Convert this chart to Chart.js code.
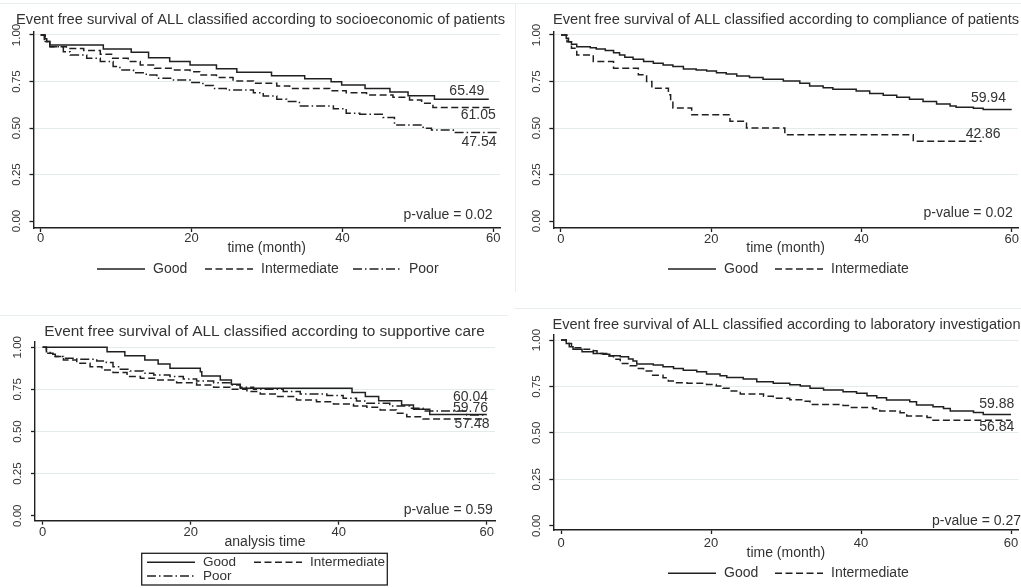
<!DOCTYPE html>
<html>
<head>
<meta charset="utf-8">
<title>Event free survival of ALL</title>
<script src="https://cdn.jsdelivr.net/npm/chart.js@4.4.0/dist/chart.umd.min.js"></script>
<style>
  html, body { margin: 0; padding: 0; background: #fff; }
  #figure { position: relative; width: 1021px; height: 588px; overflow: hidden; }
  #figure canvas { position: absolute; left: 0; top: 0; width: 1021px; height: 588px; }
  .frame { position: absolute; background: #e9eff0; }
</style>
</head>
<body>
<div id="figure">
  <div class="frame" style="left:0;top:3px;width:1021px;height:1px"></div>
  <div class="frame" style="left:515px;top:3px;width:1px;height:289px"></div>
  <div class="frame" style="left:0;top:315px;width:508px;height:1px"></div>
  <div class="frame" style="left:514px;top:308px;width:507px;height:1px"></div>
  <canvas id="c-socio" width="1021" height="588"></canvas>
  <canvas id="c-comp" width="1021" height="588"></canvas>
  <canvas id="c-care" width="1021" height="588"></canvas>
  <canvas id="c-lab" width="1021" height="588"></canvas>
</div>

<script>
// ── Shared look ────────────────────────────────────
const INK = '#202020';
const TEXT = '#333333';
const GRID = '#e3ebec';
const FONT = "'Liberation Sans', Arial, sans-serif";
const DASH = { solid: [], dash: [7, 3.5], dashdot: [9, 3, 1.5, 3] };

// ── Axes ───────────────────────────────────────────
const xTicks = [0, 20, 40, 60];
const yTicks = [0, 0.25, 0.5, 0.75, 1];
const groups = ['Good', 'Intermediate', 'Poor'];
const groupStyle = ['solid', 'dash', 'dashdot'];

// ── Socioeconomic (step times in months, survival) ─
const socioGoodT = [0, 0.5, 0.8, 1.2, 8.3, 12.0, 14.3, 17.1, 19.8, 23.3, 26.0, 30.6, 35.0, 38.5, 39.9, 43.0, 46.3, 48.7, 52.2, 59.4];
const socioGoodS = [1, 0.98, 0.965, 0.946, 0.925, 0.907, 0.878, 0.857, 0.839, 0.819, 0.80, 0.781, 0.765, 0.749, 0.731, 0.713, 0.694, 0.674, 0.6549, 0.6549];
const socioIntT = [0, 0.6, 1.2, 3.4, 5.7, 7.9, 9.4, 11.6, 13.2, 15.1, 17.6, 19.8, 21.1, 23.3, 25.5, 28.2, 31.3, 33.0, 38.3, 40.5, 43.2, 46.7, 48.9, 50.5, 52.0, 60];
const socioIntS = [1, 0.965, 0.937, 0.928, 0.916, 0.896, 0.875, 0.857, 0.839, 0.821, 0.812, 0.803, 0.785, 0.771, 0.753, 0.74, 0.726, 0.713, 0.70, 0.69, 0.677, 0.665, 0.651, 0.633, 0.6105, 0.6105];
const socioPoorT = [0, 0.5, 1.2, 3.0, 3.9, 6.1, 7.9, 9.6, 10.5, 12.3, 14.0, 15.4, 17.6, 19.8, 21.5, 22.9, 24.6, 28.2, 29.5, 31.3, 32.6, 34.3, 38.8, 40.5, 42.3, 45.4, 46.9, 50.7, 51.8, 54.7, 60.5];
const socioPoorS = [1, 0.965, 0.937, 0.91, 0.892, 0.875, 0.857, 0.83, 0.812, 0.797, 0.785, 0.767, 0.758, 0.744, 0.729, 0.713, 0.704, 0.69, 0.672, 0.654, 0.642, 0.618, 0.604, 0.579, 0.574, 0.557, 0.516, 0.498, 0.489, 0.4754, 0.4754];
const socioNoteText = ['65.49', '61.05', '47.54', 'p-value = 0.02'];
const socioNoteX = [56.5, 58.0, 58.1, 54.0];
const socioNoteY = [0.699, 0.570, 0.425, 0.032];

// ── Compliance ─────────────────────────────────────
const compGoodT = [0, 0.7, 1.0, 1.4, 2.1, 3.9, 4.7, 5.9, 7.0, 7.8, 8.5, 9.6, 11.0, 12.3, 13.6, 14.9, 16.3, 18.0, 19.4, 20.7, 22.0, 23.4, 25.1, 26.9, 29.6, 31.8, 33.1, 34.9, 36.2, 39.3, 41.1, 42.9, 44.7, 46.4, 48.2, 50.0, 51.8, 52.6, 54.9, 56.2, 60];
const compGoodS = [1, 0.982, 0.964, 0.95, 0.937, 0.932, 0.925, 0.916, 0.905, 0.892, 0.88, 0.869, 0.857, 0.848, 0.839, 0.83, 0.817, 0.812, 0.806, 0.797, 0.79, 0.78, 0.771, 0.762, 0.753, 0.74, 0.726, 0.717, 0.708, 0.699, 0.686, 0.676, 0.665, 0.654, 0.642, 0.629, 0.618, 0.611, 0.606, 0.5994, 0.5994];
const compIntT = [0, 0.8, 1.4, 2.1, 4.3, 7.0, 10.3, 11.4, 12.1, 14.3, 14.6, 14.9, 17.4, 22.5, 24.7, 29.8, 46.9, 56.0];
const compIntS = [1, 0.9643, 0.9286, 0.8929, 0.8571, 0.8214, 0.7857, 0.75, 0.7143, 0.6786, 0.6429, 0.6071, 0.5714, 0.5357, 0.5, 0.4643, 0.4286, 0.4286];
const compNoteText = ['59.94', '42.86', 'p-value = 0.02'];
const compNoteX = [56.9, 56.2, 54.2];
const compNoteY = [0.661, 0.468, 0.043];

// ── Supportive care ────────────────────────────────
const careGoodT = [0, 8.7, 11.1, 13.8, 15.6, 17.2, 21.3, 21.5, 24.0, 25.5, 26.7, 41.8, 43.6, 45.4, 48.5, 50.1, 52.3, 60];
const careGoodS = [1, 0.974, 0.949, 0.925, 0.901, 0.875, 0.855, 0.83, 0.806, 0.78, 0.756, 0.731, 0.707, 0.683, 0.657, 0.632, 0.6004, 0.6004];
const careIntT = [0, 0.5, 1.4, 2.8, 4.6, 6.4, 8.0, 9.5, 11.4, 13.2, 15.4, 18.1, 20.8, 23.1, 25.3, 27.6, 29.4, 31.6, 34.3, 37.0, 39.3, 42.0, 43.8, 45.6, 47.8, 49.2, 51.4, 60];
const careIntS = [1, 0.964, 0.945, 0.925, 0.905, 0.885, 0.865, 0.85, 0.826, 0.816, 0.806, 0.79, 0.776, 0.762, 0.75, 0.737, 0.723, 0.707, 0.687, 0.677, 0.663, 0.651, 0.644, 0.628, 0.608, 0.588, 0.5748, 0.5748];
const carePoorT = [0, 0.5, 1.0, 1.7, 2.8, 4.6, 7.3, 8.6, 9.5, 10.5, 11.8, 13.6, 15.0, 17.2, 19.0, 20.8, 23.1, 25.3, 26.7, 28.5, 32.5, 34.8, 38.4, 40.6, 42.4, 43.8, 46.9, 49.6, 51.4, 57.3, 60];
const carePoorS = [1, 0.974, 0.958, 0.945, 0.935, 0.929, 0.919, 0.909, 0.885, 0.869, 0.859, 0.846, 0.836, 0.826, 0.812, 0.80, 0.79, 0.776, 0.762, 0.75, 0.737, 0.723, 0.713, 0.697, 0.681, 0.667, 0.651, 0.638, 0.622, 0.5976, 0.5976];
const careNoteText = ['60.04', '59.76', '57.48', 'p-value = 0.59'];
const careNoteX = [57.8, 57.8, 58.0, 54.8];
const careNoteY = [0.703, 0.638, 0.545, 0.034];

// ── Laboratory investigation ───────────────────────
const labGoodT = [0, 0.7, 1.1, 1.6, 2.8, 4.3, 5.6, 6.5, 7.9, 9.0, 9.6, 10.1, 12.3, 13.6, 15.0, 16.3, 18.1, 19.4, 21.2, 22.1, 24.3, 26.1, 28.3, 30.5, 31.9, 33.2, 35.0, 37.6, 39.4, 40.8, 42.1, 43.4, 46.5, 47.4, 49.6, 51.0, 51.9, 55.0, 56.3, 60];
const labGoodS = [1, 0.982, 0.964, 0.95, 0.937, 0.928, 0.923, 0.916, 0.91, 0.898, 0.887, 0.871, 0.865, 0.856, 0.847, 0.838, 0.829, 0.817, 0.808, 0.799, 0.79, 0.776, 0.767, 0.759, 0.752, 0.741, 0.731, 0.722, 0.713, 0.70, 0.689, 0.677, 0.668, 0.65, 0.641, 0.632, 0.618, 0.61, 0.5988, 0.5988];
const labIntT = [0, 0.7, 1.4, 2.8, 4.3, 4.8, 6.1, 7.0, 7.9, 9.2, 10.1, 11.0, 12.1, 13.6, 14.3, 15.4, 16.8, 19.4, 20.7, 21.6, 22.5, 23.9, 27.0, 28.3, 30.5, 32.3, 33.2, 37.6, 38.6, 41.6, 42.5, 45.2, 46.1, 48.8, 49.6, 60];
const labIntS = [1, 0.982, 0.959, 0.95, 0.943, 0.928, 0.914, 0.896, 0.874, 0.862, 0.847, 0.833, 0.811, 0.797, 0.779, 0.77, 0.767, 0.761, 0.752, 0.74, 0.725, 0.709, 0.698, 0.686, 0.679, 0.671, 0.653, 0.648, 0.637, 0.63, 0.618, 0.609, 0.591, 0.583, 0.5684, 0.5684];
const labNoteText = ['59.88', '56.84', 'p-value = 0.27'];
const labNoteX = [58.1, 58.1, 55.4];
const labNoteY = [0.655, 0.53, 0.025];

// ── Panel layout ───────────────────────────────────
const panels = [
  {
    canvas: 'c-socio',
    title: 'Event free survival of ALL classified according to socioeconomic of patients',
    titleSize: 14.7, titleX: 260.5, titleY: 20,
    area: { left: 33.5, right: 500, top: 31.5, bottom: 228 },
    xMin: -0.955, xMax: 60.89, yMin: -0.0376, yMax: 1.0188,
    xTitle: 'time (month)', xTitleY: 248, xTickPad: -1,
    series: [[socioGoodT, socioGoodS], [socioIntT, socioIntS], [socioPoorT, socioPoorS]],
    notes: [socioNoteText, socioNoteX, socioNoteY],
    keys: [[97, 269], [205, 269], [353, 269]], keySize: 14,
  },
  {
    canvas: 'c-comp',
    title: 'Event free survival of ALL classified according to compliance of patients',
    titleSize: 14.7, titleX: 786, titleY: 20,
    area: { left: 553.3, right: 1018, top: 31.5, bottom: 228 },
    xMin: -1.02, xMax: 60.84, yMin: -0.0376, yMax: 1.0188,
    xTitle: 'time (month)', xTitleY: 248.3, xTickPad: -0.5,
    series: [[compGoodT, compGoodS], [compIntT, compIntS]],
    notes: [compNoteText, compNoteX, compNoteY],
    keys: [[668, 269], [775, 269]], keySize: 14,
  },
  {
    canvas: 'c-care',
    title: 'Event free survival of ALL classified according to supportive care',
    titleSize: 15.4, titleX: 264.5, titleY: 332,
    area: { left: 35, right: 495, top: 341.7, bottom: 520.7 },
    xMin: -1.04, xMax: 61.12, yMin: -0.0297, yMax: 1.033,
    xTitle: 'analysis time', xTitleY: 541.7, xTickPad: 0,
    series: [[careGoodT, careGoodS], [careIntT, careIntS], [carePoorT, carePoorS]],
    notes: [careNoteText, careNoteX, careNoteY],
    keys: [[147, 562.3], [254, 562.3], [147, 576]], keySize: 13.5,
    box: [141.7, 553.3, 245.6, 31.7],
  },
  {
    canvas: 'c-lab',
    title: 'Event free survival of ALL classified according to laboratory investigation',
    titleSize: 14.6, titleX: 786.5, titleY: 324.7,
    area: { left: 553.3, right: 1018.3, top: 334.3, bottom: 530 },
    xMin: -1.03, xMax: 60.97, yMin: -0.023, yMax: 1.031,
    xTitle: 'time (month)', xTitleY: 552.7, xTickPad: 2,
    series: [[labGoodT, labGoodS], [labIntT, labIntS]],
    notes: [labNoteText, labNoteX, labNoteY],
    keys: [[668, 573.3], [775, 573.3]], keySize: 14,
  },
];

// ── Title, end labels, p-value and key ─────────────
function makeOverlay(p) {
  return {
    id: 'kmOverlay',
    afterDraw(chart) {
      const { ctx, scales: { x, y } } = chart;
      ctx.save();
      ctx.fillStyle = TEXT;
      ctx.textBaseline = 'middle';
      ctx.textAlign = 'center';
      ctx.font = `${p.titleSize}px ${FONT}`;
      ctx.fillText(p.title, p.titleX, p.titleY);

      const [texts, nx, ny] = p.notes;
      ctx.font = `14px ${FONT}`;
      texts.forEach((t, i) => ctx.fillText(t, x.getPixelForValue(nx[i]), y.getPixelForValue(ny[i])));

      ctx.textAlign = 'left';
      ctx.font = `${p.keySize}px ${FONT}`;
      ctx.strokeStyle = INK;
      ctx.lineWidth = 1.4;
      p.keys.forEach(([kx, ky], i) => {
        ctx.setLineDash(DASH[groupStyle[i]]);
        ctx.beginPath();
        ctx.moveTo(kx, ky);
        ctx.lineTo(kx + 48, ky);
        ctx.stroke();
        ctx.fillText(groups[i], kx + 56, ky);
      });
      ctx.setLineDash([]);
      if (p.box) {
        ctx.lineWidth = 1.3;
        ctx.strokeRect(...p.box);
      }
      ctx.restore();
    },
  };
}

// ── Build one panel ────────────────────────────────
function makePanel(p) {
  const yWidth = 30;
  const xHeight = p.xTitleY - p.area.bottom + 8.4;
  const datasets = p.series.map(([times, surv], i) => ({
    label: groups[i],
    data: times.map((t, k) => ({ x: t, y: surv[k] })),
    stepped: true,
    borderColor: INK,
    borderWidth: 1.5,
    borderDash: DASH[groupStyle[i]],
    pointRadius: 0,
    fill: false,
  }));

  new Chart(document.getElementById(p.canvas), {
    type: 'line',
    data: { datasets },
    options: {
      responsive: false,
      animation: false,
      events: [],
      layout: {
        padding: {
          left: p.area.left - yWidth,
          top: p.area.top,
          right: 1021 - p.area.right,
          bottom: 588 - p.area.bottom - xHeight,
        },
      },
      plugins: { legend: { display: false }, tooltip: { enabled: false } },
      scales: {
        x: {
          type: 'linear',
          min: p.xMin,
          max: p.xMax,
          afterBuildTicks: sc => { sc.ticks = xTicks.map(v => ({ value: v })); },
          afterFit: sc => { sc.height = xHeight; sc.paddingLeft = 0; sc.paddingRight = 0; },
          grid: { drawOnChartArea: false, drawTicks: true, tickLength: 4, tickColor: INK, tickWidth: 1.3 },
          border: { color: INK, width: 1.4 },
          ticks: {
            color: TEXT, autoSkip: false, maxRotation: 0, padding: p.xTickPad,
            font: { family: FONT, size: 13, lineHeight: 1.2 },
          },
          title: {
            display: true, text: p.xTitle, color: TEXT, padding: 0,
            font: { family: FONT, size: 14, lineHeight: 1.2 },
          },
        },
        y: {
          min: p.yMin,
          max: p.yMax,
          afterBuildTicks: sc => { sc.ticks = yTicks.map(v => ({ value: v })); },
          afterFit: sc => { sc.width = yWidth; sc.paddingTop = 0; sc.paddingBottom = 0; },
          grid: {
            color: c => (c.tick && c.tick.value > 0 ? GRID : 'rgba(0,0,0,0)'),
            drawTicks: true, tickLength: 4, tickColor: INK, tickWidth: 1.3,
          },
          border: { color: INK, width: 1.4 },
          ticks: {
            color: TEXT, autoSkip: false, minRotation: 90, maxRotation: 90,
            crossAlign: 'center', padding: 1.5,
            font: { family: FONT, size: 11.5 },
            callback: v => Number(v).toFixed(2),
          },
        },
      },
    },
    plugins: [makeOverlay(p)],
  });
}

panels.forEach(makePanel);
</script>
</body>
</html>
